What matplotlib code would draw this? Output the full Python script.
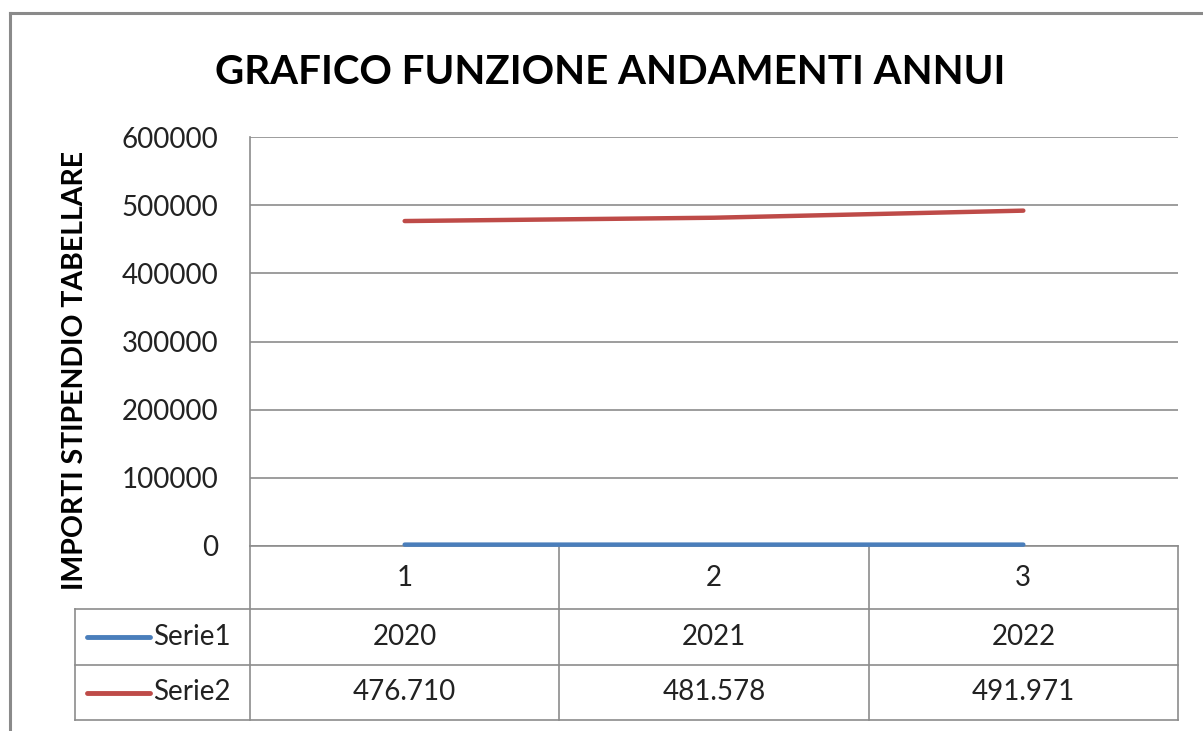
import matplotlib
matplotlib.use("Agg")
import matplotlib.pyplot as plt
from matplotlib.lines import Line2D

# data
categorie = [1, 2, 3]
serie_nomi = ["Serie1", "Serie2"]
serie1 = [2020, 2021, 2022]
serie2 = [476710, 481578, 491971]
colori = ["#4A7EBB", "#BE4B48"]
yticks = [0, 100000, 200000, 300000, 400000, 500000, 600000]

plt.rcParams['font.family'] = ['Lato', 'DejaVu Sans']

W, H = 1203, 731
fig = plt.figure(figsize=(W / 100, H / 100), dpi=100)

# outer chart frame (Excel style)
fig.add_artist(Line2D([10 / W, 10 / W], [0, 1 - 13 / H], transform=fig.transFigure,
                      color="#8a8a8a", lw=2.2))
fig.add_artist(Line2D([10 / W, 1], [1 - 13 / H, 1 - 13 / H], transform=fig.transFigure,
                      color="#8a8a8a", lw=2.2))

fig.text(610 / W, 1 - 72 / H, "GRAFICO FUNZIONE ANDAMENTI ANNUI", ha="center", va="center",
         fontsize=29, fontweight="bold")

left, right, top, bottom = 250, 1178, 137, 546
ax = fig.add_axes([left / W, 1 - bottom / H, (right - left) / W, (bottom - top) / H])

ax.plot(categorie, serie1, color=colori[0], lw=3.2, solid_capstyle="round", clip_on=False, zorder=3)
ax.plot(categorie, serie2, color=colori[1], lw=3.2, solid_capstyle="round", clip_on=False, zorder=3)

ax.set_xlim(0.5, 3.5)
ax.set_ylim(0, 600000)
ax.set_yticks(yticks)
ax.set_yticklabels([str(v) for v in yticks], fontsize=20, color="#222222")
ax.tick_params(axis="y", length=0, pad=23)
ax.set_xticks([])
ax.grid(axis="y", color="#8c8c8c", lw=1.2)
for s in ["top", "right", "bottom"]:
    ax.spines[s].set_visible(False)
ax.spines["left"].set_color("#8c8c8c")
ax.spines["left"].set_linewidth(1.2)

ax.set_ylabel("IMPORTI STIPENDIO TABELLARE", fontsize=20.5, fontweight="bold")
ax.yaxis.set_label_coords(-(left - 88) / (right - left), (bottom - 370) / (bottom - top))

# data table below the plot
h = bottom - top
pw = right - left
r0 = 0
r1 = -(609 - bottom) / h
r2 = -(665 - bottom) / h
r3 = -(720 - bottom) / h
leg_x = -(left - 75) / pw
tc = "#8c8c8c"
kw = dict(transform=ax.transAxes, color=tc, lw=1.2, clip_on=False)

# horizontal lines
ax.plot([0, 1], [r0, r0], **kw)
for y in [r1, r2, r3]:
    ax.plot([leg_x, 1], [y, y], **kw)
# vertical lines
for x in [0, 1 / 3, 2 / 3, 1]:
    ax.plot([x, x], [r0, r3], **kw)
ax.plot([leg_x, leg_x], [r1, r3], **kw)

tr = ax.get_xaxis_transform()
for c in categorie:
    ax.text(c, (r0 + r1) / 2, str(c), transform=tr, ha="center", va="center",
            fontsize=20, color="#222222")


def fmt_it(v):
    if v >= 10000:
        return f"{v:,}".replace(",", ".")
    return str(v)


righe = [serie1, serie2]
for i, vals in enumerate(righe):
    yc = [(r1 + r2) / 2, (r2 + r3) / 2][i]
    for c, v in zip(categorie, vals):
        ax.text(c, yc, fmt_it(v), transform=tr, ha="center", va="center",
                fontsize=20, color="#222222")
    # legend key + name
    ax.plot([leg_x + 12 / pw, leg_x + 75 / pw], [yc, yc], transform=ax.transAxes,
            color=colori[i], lw=3.5, solid_capstyle="round", clip_on=False)
    ax.text(leg_x + 78 / pw, yc, serie_nomi[i], transform=ax.transAxes, ha="left", va="center",
            fontsize=20, color="#222222")

fig.savefig("out.png", dpi=100)
